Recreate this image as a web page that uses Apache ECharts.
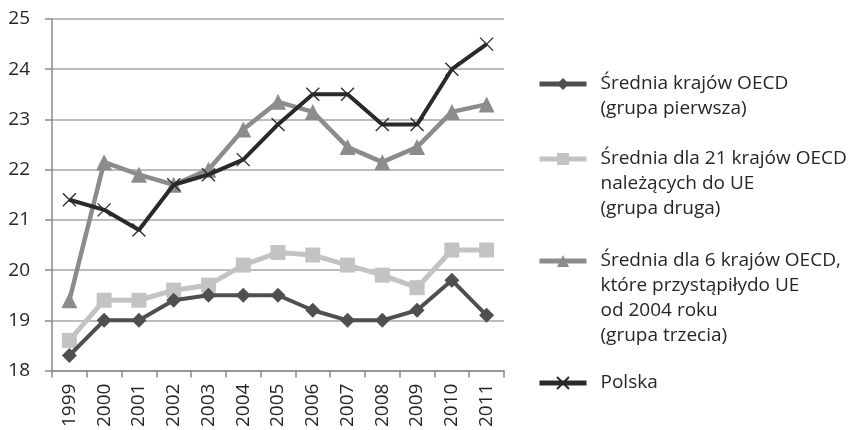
<!DOCTYPE html>
<html>
<head>
<meta charset="utf-8">
<script src="https://cdn.jsdelivr.net/npm/echarts@6/dist/echarts.min.js"></script>
<style>
  html, body { margin: 0; padding: 0; background: #fff; }
  #chart { width: 856px; height: 430px; }
</style>
</head>
<body>
<div id="chart"></div>
<script>
const years = ['1999', '2000', '2001', '2002', '2003', '2004', '2005', '2006', '2007', '2008', '2009', '2010', '2011']

const seriesNames = [
  'Średnia krajów OECD\n(grupa pierwsza)',
  'Średnia dla 21 krajów OECD\nnależących do UE\n(grupa druga)',
  'Średnia dla 6 krajów OECD,\nktóre przystąpiłydo UE\nod 2004 roku\n(grupa trzecia)',
  'Polska'
]

const oecdAvg = [18.3, 19.0, 19.0, 19.4, 19.5, 19.5, 19.5, 19.2, 19.0, 19.0, 19.2, 19.8, 19.1]
const eu21Avg = [18.6, 19.4, 19.4, 19.6, 19.7, 20.1, 20.35, 20.3, 20.1, 19.9, 19.65, 20.4, 20.4]
const new6Avg = [19.4, 22.15, 21.9, 21.7, 22.0, 22.8, 23.35, 23.15, 22.45, 22.15, 22.45, 23.15, 23.3]
const polska = [21.4, 21.2, 20.8, 21.7, 21.9, 22.2, 22.9, 23.5, 23.5, 22.9, 22.9, 24.0, 24.5]

const FONT = 'Open Sans'
const TEXT = '#262626'
const AXIS = '#8a8a8a'
const crossPath = 'path://M0,0L10,10M10,0L0,10'

const chart = echarts.init(document.getElementById('chart'), null, { renderer: 'canvas' })

// one legend per entry so the marker sits on the first line of the label
const legendTops = [84, 159, 261, 383]
const lineH = 25
const legends = seriesNames.map((name, i) => {
  const n = name.split('\n').length
  return {
    data: [name],
    orient: 'vertical',
    left: 537,
    top: legendTops[i] - (2 * n - 1) * lineH / 2,
    padding: 0,
    itemWidth: 47,
    itemHeight: 15,
    selectedMode: false,
    lineStyle: { width: 5 },
    formatter: (s) => '\n'.repeat(n - 1) + s,
    textStyle: {
      fontFamily: FONT,
      fontSize: 19,
      lineHeight: lineH,
      color: TEXT,
      padding: [0, 0, 0, 9]
    }
  }
})

chart.setOption({
  animation: false,
  backgroundColor: '#fff',
  grid: {
    left: 52,
    right: 352,
    top: 19,
    bottom: 58
  },
  legend: legends,
  xAxis: {
    type: 'category',
    data: years,
    boundaryGap: true,
    axisLine: { lineStyle: { color: AXIS, width: 1.5 } },
    axisTick: { show: true, length: 7, interval: 0, lineStyle: { color: AXIS, width: 1.5 } },
    axisLabel: {
      rotate: 90,
      interval: 0,
      margin: 13,
      fontFamily: FONT,
      fontSize: 19,
      color: TEXT
    },
    splitLine: { show: false }
  },
  yAxis: {
    type: 'value',
    min: 18,
    max: 25,
    interval: 1,
    axisLine: { show: true, lineStyle: { color: AXIS, width: 1.5 } },
    axisTick: { show: true, length: 7, lineStyle: { color: AXIS, width: 1.5 } },
    axisLabel: {
      margin: 22,
      fontFamily: FONT,
      fontSize: 19,
      color: TEXT
    },
    splitLine: { lineStyle: { color: '#a6a6a6', width: 1.5 } }
  },
  series: [
    {
      name: seriesNames[0],
      type: 'line',
      data: oecdAvg,
      symbol: 'diamond',
      symbolSize: 15,
      lineStyle: { color: '#4f4f4f', width: 4 },
      itemStyle: { color: '#4f4f4f' },
      z: 4
    },
    {
      name: seriesNames[1],
      type: 'line',
      data: eu21Avg,
      symbol: 'rect',
      symbolSize: 15,
      lineStyle: { color: '#c3c3c3', width: 5 },
      itemStyle: { color: '#c3c3c3' },
      z: 3
    },
    {
      name: seriesNames[2],
      type: 'line',
      data: new6Avg,
      symbol: 'triangle',
      symbolSize: 16,
      lineStyle: { color: '#8c8c8c', width: 4.5 },
      itemStyle: { color: '#8c8c8c' },
      z: 2
    },
    {
      name: seriesNames[3],
      type: 'line',
      data: polska,
      symbol: crossPath,
      symbolSize: 13,
      lineStyle: { color: '#2a2a2a', width: 4 },
      itemStyle: { color: '#2a2a2a', borderColor: '#2a2a2a', borderWidth: 1.3 },
      z: 5
    }
  ]
})
</script>
</body>
</html>
